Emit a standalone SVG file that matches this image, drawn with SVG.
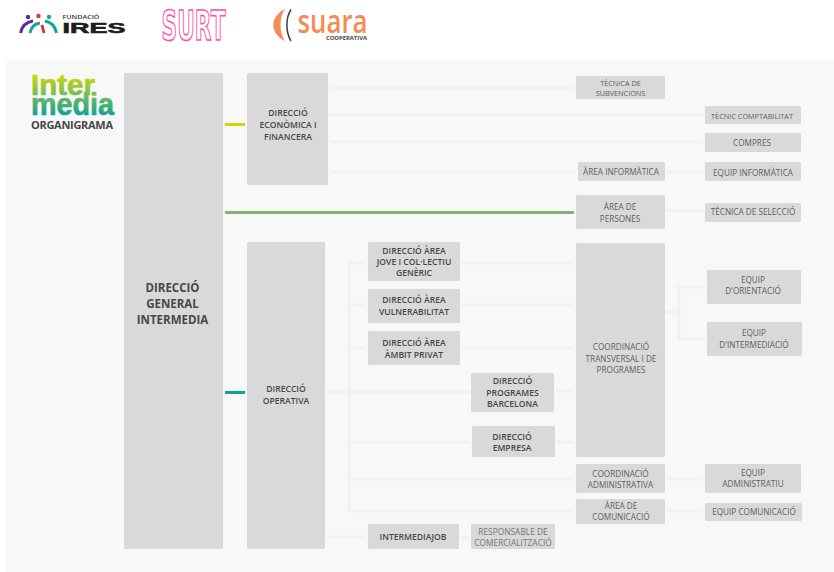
<svg xmlns="http://www.w3.org/2000/svg" width="834" height="572" viewBox="0 0 834 572">
<style>
text{font-family:"Open Sans","Noto Sans","DejaVu Sans",sans-serif;text-anchor:middle;fill:#5f5f5f;font-size:8.2px}
.box{fill:#d9d9d9;stroke:#fff;stroke-opacity:.65;stroke-width:1}
.b text,text.b{font-weight:600;fill:#474747;font-size:8.6px}
.s text{font-size:7.3px}
.c{stroke:#f1f1f2;stroke-width:3;fill:none}
.logo{font-family:"Liberation Sans",sans-serif;font-weight:700;fill:url(#ig);stroke:url(#ig);stroke-width:.7}
</style>
<defs>
<linearGradient id="ig" gradientUnits="userSpaceOnUse" x1="0" y1="74" x2="0" y2="116"><stop offset="0" stop-color="#d6d800"/><stop offset=".5" stop-color="#72bd5c"/><stop offset="1" stop-color="#10a196"/></linearGradient>
</defs>
<rect width="834" height="572" fill="#fff"/>
<rect x="6" y="60" width="828" height="512" fill="#f8f8f8"/>

<g id="logo-ires">
<path d="M20.500 33C22 26 26 22 33 21" fill="none" stroke="#5b2d9a" stroke-width="3"/>
<path d="M30 33C31 27 34 24 40 23" fill="none" stroke="#16a58f" stroke-width="3"/>
<path d="M42 25L44 33" fill="none" stroke="#e0303c" stroke-width="3"/>
<path d="M45 21C51 22 55 26 56.500 33" fill="none" stroke="#16a58f" stroke-width="3"/>
<circle cx="28" cy="17" r="2.200" fill="#5b2d9a"/><circle cx="38.500" cy="16" r="2.200" fill="#e0303c"/><circle cx="49" cy="17" r="2.200" fill="#16a58f"/>
<text x="81" y="19" style="font-size:5.500px;font-weight:600;fill:#333" textLength="37" lengthAdjust="spacingAndGlyphs">FUNDACIÓ</text>
<text x="94" y="33" style="font-family:'Liberation Sans',sans-serif;font-size:15.500px;font-weight:700;fill:#1d1d1d;stroke:#1d1d1d;stroke-width:.6" textLength="63" lengthAdjust="spacingAndGlyphs">IRES</text>
</g>
<g id="logo-surt">
<text x="193.500" y="39.500" style="font-family:'DejaVu Sans',sans-serif;font-size:40px;font-weight:700;fill:#fff;stroke:#fa4fa3;stroke-width:1.500" textLength="64" lengthAdjust="spacingAndGlyphs">SURT</text>
</g>
<g id="logo-suara">
<path d="M285 9C269.500 17 269.500 33 285 41C279 33 279 17 285 9Z" fill="#f58c55"/>
<path d="M291 9.500C285.500 18 285.500 32 291 41" fill="none" stroke="#3c3c3c" stroke-width="1.500"/>
<text x="332.500" y="33" style="font-size:32px;font-weight:600;fill:#f58c55" textLength="70" lengthAdjust="spacingAndGlyphs">suara</text>
<text x="346.500" y="40" style="font-size:5.500px;font-weight:700;fill:#444" textLength="41" lengthAdjust="spacingAndGlyphs">COOPERATIVA</text>
</g>
<g id="logo-intermedia">
<text class="logo" x="63" y="95" style="font-size:29px" textLength="64" lengthAdjust="spacingAndGlyphs">Inter</text>
<text class="logo" x="72.500" y="115" style="font-size:32px" textLength="83" lengthAdjust="spacingAndGlyphs">media</text>
<text class="b" x="72" y="129" style="font-size:11px;font-weight:700" textLength="82">ORGANIGRAMA</text>
</g>

<g id="connectors">
<path class="c" d="M330 88H574M330 115H703M330 142H703M330 172H576M667 172H703M667 211H703"/>
<path class="c" d="M366 263H349V511H574M349 305H366M349 348H366M327 392H469M349 442H470M349 479H574"/>
<path class="c" d="M462 263H574M462 305H574M462 348H574M556 391H574M557 442H574"/>
<path class="c" d="M327 537H366M461 537H469M667 479H703M667 511H703"/>
<path class="c" d="M667 312H679M705 287H679V339H705"/>
<path d="M225 124.500H245" stroke="#d4d600" stroke-width="3"/>
<path d="M225 212.500H574" stroke="#7db672" stroke-width="3"/>
<path d="M225 392.500H245" stroke="#0fa394" stroke-width="3"/>
</g>

<g id="n-general" class="b"><rect class="box" x="123.500" y="72.500" width="100" height="477" rx="2"/><text x="172.500" y="292" style="font-size:11.500px;font-weight:700">DIRECCIÓ</text><text x="172.500" y="308" style="font-size:11.500px;font-weight:700">GENERAL</text><text x="172.500" y="324" style="font-size:11.500px;font-weight:700">INTERMEDIA</text></g>
<g id="n-economica" class="b"><rect class="box" x="246.500" y="72.500" width="82" height="113" rx="2"/><text x="288" y="116">DIRECCIÓ</text><text x="288" y="128">ECONÒMICA I</text><text x="288" y="139.500">FINANCERA</text></g>
<g id="n-operativa" class="b"><rect class="box" x="246.500" y="241.500" width="79" height="308" rx="2"/><text x="286" y="392">DIRECCIÓ</text><text x="286" y="404">OPERATIVA</text></g>
<g id="n-jove" class="b"><rect class="box" x="367.500" y="241.500" width="93" height="40" rx="2"/><text x="414" y="253.500">DIRECCIÓ ÀREA</text><text x="414" y="265">JOVE I COL·LECTIU</text><text x="414" y="276">GENÈRIC</text></g>
<g id="n-vulnerabilitat" class="b"><rect class="box" x="367.500" y="288.500" width="93" height="35" rx="2"/><text x="414" y="303">DIRECCIÓ ÀREA</text><text x="414" y="314.500">VULNERABILITAT</text></g>
<g id="n-privat" class="b"><rect class="box" x="367.500" y="330.500" width="93" height="35" rx="2"/><text x="414" y="346">DIRECCIÓ ÀREA</text><text x="414" y="357.500">ÀMBIT PRIVAT</text></g>
<g id="n-barcelona" class="b"><rect class="box" x="470.500" y="372.500" width="84" height="40" rx="2"/><text x="512.500" y="384">DIRECCIÓ</text><text x="512.500" y="395.500">PROGRAMES</text><text x="512.500" y="407">BARCELONA</text></g>
<g id="n-empresa" class="b"><rect class="box" x="471.500" y="425.500" width="84" height="32" rx="2"/><text x="512" y="439.500">DIRECCIÓ</text><text x="512" y="451">EMPRESA</text></g>
<g id="n-job" class="b"><rect class="box" x="367.500" y="523.500" width="92" height="26" rx="2"/><text x="413" y="539.500">INTERMEDIAJOB</text></g>
<g id="n-responsable"><rect class="box" x="470.500" y="523.500" width="85" height="26" rx="2"/><text x="513" y="534.500" style="fill:#777;font-size:8.400px">RESPONSABLE DE</text><text x="513" y="546" style="fill:#777;font-size:8.400px">COMERCIALITZACIÓ</text></g>
<g id="n-subvencions" class="s"><rect class="box" x="575.500" y="75.500" width="90" height="24" rx="2"/><text x="620.500" y="86">TÈCNICA DE</text><text x="620.500" y="96">SUBVENCIONS</text></g>
<g id="n-comptabilitat" class="s"><rect class="box" x="704.500" y="105.500" width="97" height="19" rx="2"/><text x="752" y="119">TÈCNIC COMPTABILITAT</text></g>
<g id="n-compres"><rect class="box" x="704.500" y="132.500" width="97" height="20" rx="2"/><text x="752" y="146">COMPRES</text></g>
<g id="n-area-info"><rect class="box" x="577.500" y="161.500" width="88" height="20" rx="2"/><text x="621" y="175">ÀREA INFORMÀTICA</text></g>
<g id="n-equip-info"><rect class="box" x="704.500" y="161.500" width="97" height="20" rx="2"/><text x="753" y="175.500">EQUIP INFORMÀTICA</text></g>
<g id="n-persones"><rect class="box" x="575.500" y="194.500" width="90" height="35" rx="2"/><text x="620" y="210">ÀREA DE</text><text x="620" y="221.500">PERSONES</text></g>
<g id="n-seleccio"><rect class="box" x="704.500" y="202.500" width="97" height="20" rx="2"/><text x="753" y="215">TÈCNICA DE SELECCIÓ</text></g>
<g id="n-transversal"><rect class="box" x="575.500" y="242.500" width="90" height="215" rx="2"/><text x="621" y="350">COORDINACIÓ</text><text x="621" y="361.500">TRANSVERSAL I DE</text><text x="621" y="373">PROGRAMES</text></g>
<g id="n-orientacio"><rect class="box" x="706.500" y="269.500" width="95" height="35" rx="2"/><text x="753" y="282.500">EQUIP</text><text x="753" y="294">D'ORIENTACIÓ</text></g>
<g id="n-intermediacio"><rect class="box" x="706.500" y="321.500" width="96" height="35" rx="2"/><text x="754" y="336">EQUIP</text><text x="754" y="347.500">D'INTERMEDIACIÓ</text></g>
<g id="n-coord-admin"><rect class="box" x="575.500" y="463.500" width="90" height="30" rx="2"/><text x="620.500" y="476.500">COORDINACIÓ</text><text x="620.500" y="488">ADMINISTRATIVA</text></g>
<g id="n-comunicacio"><rect class="box" x="575.500" y="498.500" width="90" height="26" rx="2"/><text x="621" y="508.500">ÀREA DE</text><text x="621" y="520">COMUNICACIÓ</text></g>
<g id="n-equip-admin"><rect class="box" x="704.500" y="463.500" width="97" height="30" rx="2"/><text x="753" y="476">EQUIP</text><text x="753" y="487">ADMINISTRATIU</text></g>
<g id="n-equip-com"><rect class="box" x="704.500" y="502.500" width="98" height="19" rx="2"/><text x="754" y="515">EQUIP COMUNICACIÓ</text></g>
</svg>
